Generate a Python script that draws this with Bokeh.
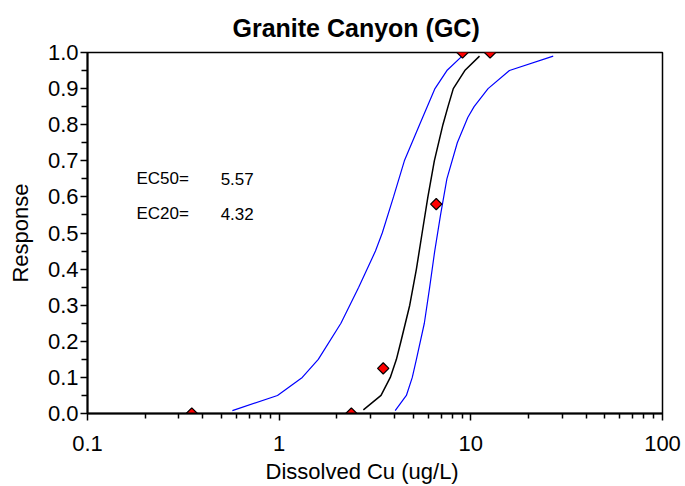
import numpy as np
from bokeh.plotting import figure
from bokeh.models import FixedTicker, Label, PrintfTickFormatter, Title
from bokeh.embed import file_html
from bokeh.resources import INLINE

# Observed data (red diamonds)
obs_conc = [0.35, 2.38, 3.49, 6.6, 9.05, 12.6]
obs_resp = [0.0, 0.0, 0.125, 0.58, 1.0, 1.0]

# Fitted curve (black)
fit_resp = [0.01, 0.05, 0.10, 0.15, 0.20, 0.30, 0.40, 0.50, 0.60, 0.70, 0.80, 0.85, 0.90, 0.95, 0.99]
fit_conc = [2.75, 3.40, 3.80, 4.09, 4.32, 4.80, 5.20, 5.57, 5.97, 6.45, 7.15, 7.60, 8.10, 9.30, 11.1]

# Lower confidence limit (blue, left)
low_resp = [0.008, 0.05, 0.10, 0.15, 0.25, 0.35, 0.45, 0.50, 0.60, 0.70, 0.80, 0.90, 0.95, 0.99]
low_conc = [0.57, 0.98, 1.32, 1.60, 2.10, 2.60, 3.18, 3.45, 3.95, 4.50, 5.40, 6.50, 7.50, 9.00]

# Upper confidence limit (blue, right)
up_resp = [0.008, 0.05, 0.10, 0.15, 0.25, 0.35, 0.45, 0.55, 0.65, 0.75, 0.82, 0.85, 0.90, 0.95, 0.99]
up_conc = [4.03, 4.61, 4.95, 5.20, 5.72, 6.10, 6.48, 6.95, 7.50, 8.50, 9.64, 10.4, 12.3, 15.9, 26.9]

x_ticks = [0.1, 1, 10, 100]
x_tick_labels = ["0.1", "1", "10", "100"]
y_ticks = [0.0, 0.1, 0.2, 0.3, 0.4, 0.5, 0.6, 0.7, 0.8, 0.9, 1.0]

FONT = "Liberation Sans"

p = figure(width=685, height=486, x_axis_type="log", x_range=(0.1, 100), y_range=(0, 1),
           output_backend="svg", toolbar_location=None,
           min_border_left=87, min_border_right=23, min_border_top=52, min_border_bottom=73)
p.title.text = "Granite Canyon (GC)"
p.title.align = "left"
p.title.text_font = FONT
p.title.text_font_size = "25px"
p.title.text_font_style = "bold"
p.title.text_color = "black"
p.title.offset = 145
p.title.standoff = 21

p.xgrid.visible = False
p.ygrid.visible = False
p.outline_line_color = "black"
p.outline_line_width = 1.5
p.outline_line_alpha = 1.0

minor_x = []
for d in [0.1, 1, 10]:
    for k in range(2, 10):
        minor_x.append(d * k)
p.xaxis.ticker = FixedTicker(ticks=x_ticks, minor_ticks=minor_x)
p.xaxis.major_label_overrides = {t: s for t, s in zip(x_ticks, x_tick_labels)}
minor_y = [round(0.05 + 0.1 * i, 2) for i in range(10)]
p.yaxis.ticker = FixedTicker(ticks=y_ticks, minor_ticks=minor_y)
p.yaxis.formatter = PrintfTickFormatter(format="%.1f")

for ax in (p.xaxis[0], p.yaxis[0]):
    ax.axis_line_width = 2
    ax.axis_line_color = "black"
    ax.major_tick_line_color = "black"
    ax.minor_tick_line_color = "black"
    ax.major_tick_line_width = 1.5
    ax.minor_tick_line_width = 1.5
    ax.major_tick_in = 0
    ax.major_tick_out = 7
    ax.minor_tick_in = 0
    ax.minor_tick_out = 5
    ax.major_label_text_font = FONT
    ax.major_label_text_font_size = "22px"
    ax.major_label_text_color = "black"
    ax.axis_label_text_font = FONT
    ax.axis_label_text_font_size = "22px"
    ax.axis_label_text_font_style = "normal"
    ax.axis_label_text_color = "black"

p.yaxis.minor_tick_out = 6
p.yaxis.axis_label = "Response"
p.xaxis.major_label_standoff = 15
p.yaxis.major_label_standoff = 2
p.yaxis.axis_label_standoff = 12

# x-axis title, set slightly left of the frame centre as in the original
p.add_layout(Title(text="Dissolved Cu (ug/L)", align="left", offset=178, standoff=6,
                   text_font=FONT, text_font_size="22px", text_font_style="normal",
                   text_color="black"), "below")

p.line(low_conc, low_resp, line_color="#0000FF", line_width=1.2)
p.line(up_conc, up_resp, line_color="#0000FF", line_width=1.2)
p.line(fit_conc, fit_resp, line_color="black", line_width=1.5)
p.scatter(obs_conc, obs_resp, marker="square", angle=np.pi / 4, size=8,
          fill_color="#FF0000", line_color="black", line_width=1.2)

ec_labels = ["EC50=", "EC20="]
ec_values = ["5.57", "4.32"]
ec_y = [0.65, 0.553]
for lab, val, yy in zip(ec_labels, ec_values, ec_y):
    p.add_layout(Label(x=0.18, y=yy, text=lab, text_font=FONT, text_font_size="17px",
                       text_baseline="middle", text_color="black"))
    p.add_layout(Label(x=0.495, y=yy, text=val, text_font=FONT, text_font_size="17px",
                       text_baseline="middle", text_color="black"))

open("out.html", "w").write(file_html(p, INLINE))
